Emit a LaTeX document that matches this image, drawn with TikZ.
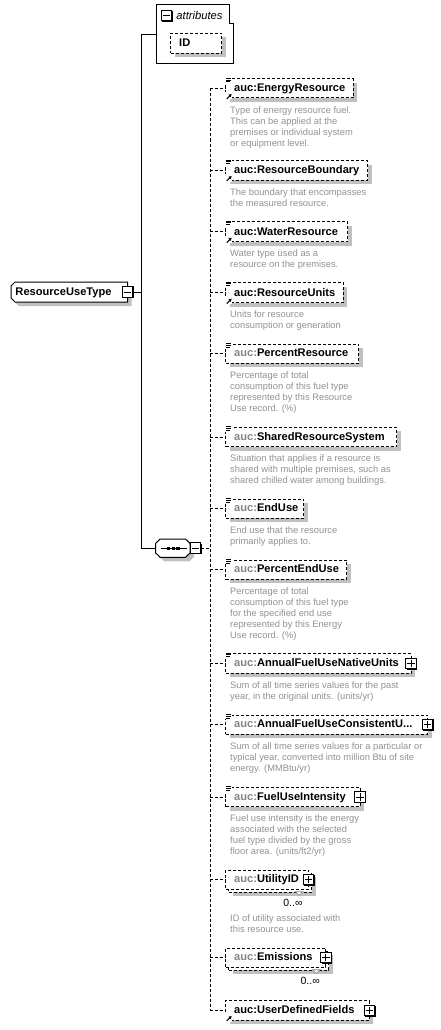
\documentclass[tikz,border=0pt]{standalone}
\usepackage{fontspec}
\setmainfont{Liberation Sans}
\usetikzlibrary{shadows,arrows.meta}

\definecolor{shade}{HTML}{C0C0C0}
\definecolor{nsgray}{HTML}{858585}
\definecolor{docgray}{HTML}{929292}

\newcommand\namefont{\fontsize{11.1}{13}\selectfont\bfseries}
\newcommand\docfont{\fontsize{9.35}{11}\selectfont}
\newcommand\ns{\textcolor{nsgray}{auc:}}

\pgfdeclarelayer{paper}
\pgfdeclarelayer{wires}
\pgfsetlayers{paper,wires,main}

% documentation marker on the upper left corner of an element box
\newcommand\docicon[1]{%
  \fill[white] ([shift={(-1,-2)}]#1.north west) rectangle ([shift={(6.2,4.4)}]#1.north west);
  \draw[line width=0.8pt] ([shift={(0.3,-0.7)}]#1.north west) -- ++(5,0)
    ([shift={(0.3,1.1)}]#1.north west) -- ++(5,0)
    ([shift={(0.3,2.9)}]#1.north west) -- ++(4,0);
}
% reference arrow on the lower left corner of an element box
\newcommand\reficon[1]{%
  \fill[white] ([shift={(-1,-6)}]#1.south west) rectangle ([shift={(6.5,1.5)}]#1.south west);
  \draw[line width=1pt, -{Triangle[length=2.8pt,width=3.2pt]}]
    ([shift={(1,0.9)}]#1.south west) -- ([shift={(5.9,-4)}]#1.south west);
}
% small notch below a repeated element
\newcommand\repeatnotch[1]{%
  \draw[gray, fill=white, line width=0.6pt] ([shift={(-13.2,2.4)}]#1.south east) -- ++(7.6,0) -- ++(-3.8,3.6) -- cycle;
}

\tikzset{
  x=1pt, y=-1pt,
  wire/.style={line width=1pt},
  dwire/.style={line width=1pt, dash pattern=on 3pt off 2pt},
  shadowed/.style={drop shadow={shadow xshift=4pt, shadow yshift=-4pt, fill=shade, opacity=1}},
  elbox/.style={rectangle, draw, line width=1pt, dash pattern=on 3pt off 2pt, fill=white,
    inner sep=0pt, outer sep=0pt, anchor=north west},
  plainbox/.style={rectangle, inner sep=0pt, outer sep=0pt, anchor=north west},
  elname/.style={font=\namefont, inner sep=0pt, text height=8.5pt, text depth=1.9pt, anchor=west},
  doc/.style={font=\docfont, text=docgray, align=left, inner sep=0pt, anchor=north west},
  occurs/.style={font=\fontsize{10.5}{12}\selectfont, inner sep=0pt, anchor=base east},
  toggle/.style={rectangle, draw, line width=1.1pt, fill=white, minimum size=10.5pt, inner sep=0pt,
    outer sep=0pt, drop shadow={shadow xshift=1pt, shadow yshift=-1pt, fill=black, opacity=1}},
  minusbox/.style={toggle, path picture={
    \draw[line width=1pt] ([xshift=-3.7pt]path picture bounding box.center) -- ([xshift=3.7pt]path picture bounding box.center);}},
  plusbox/.style={toggle, path picture={
    \draw[line width=1pt] ([xshift=-3.7pt]path picture bounding box.center) -- ([xshift=3.7pt]path picture bounding box.center)
      ([yshift=-3.7pt]path picture bounding box.center) -- ([yshift=3.7pt]path picture bounding box.center);}},
}

\begin{document}
\begin{tikzpicture}
\begin{pgfonlayer}{paper}
  \fill[white] (0,0) rectangle (441,1030);
\end{pgfonlayer}
\useasboundingbox (0,0) rectangle (441,1030);

% ---------- complex type ----------
\node[plainbox, minimum width=116.7pt, minimum height=20pt] (rut) at (11,282) {};
\draw[wire, fill=white, shadowed] ([xshift=4pt]rut.north west) -- (rut.north east) -- (rut.south east)
  -- ([xshift=4pt]rut.south west) -- ([yshift=4pt]rut.south west) -- ([yshift=-4pt]rut.north west) -- cycle;
\node[elname] (rutName) at ([xshift=4.3pt]rut.west) {ResourceUseType};
\node[minusbox] (rutToggle) at (rut.east) {};

% ---------- attribute group ----------
\node[plainbox, minimum width=76.3pt, minimum height=59pt] (attrs) at (156.7,5) {};
\draw[wire, fill=white] (attrs.north west) -- ([xshift=-3.3pt]attrs.north east)
  -- ([shift={(-3.3pt,-19pt)}]attrs.north east) -- ([yshift=-19pt]attrs.north east)
  -- (attrs.south east) -- (attrs.south west) -- cycle;
\node[minusbox] (attrsToggle) at (166.5,15.5) {};
\node[elname, font=\fontsize{11.2}{13}\selectfont\itshape] (attrsName) at ([shift={(4.5,1)}]attrsToggle.east) {attributes};
\node[elbox, shadowed, minimum width=51pt, minimum height=20pt] (attrID) at (170.7,33.3) {};
\node[elname] (attrIDName) at ([xshift=8.3pt]attrID.west) {ID};

% ---------- sequence compositor ----------
\node[plainbox, minimum width=34.3pt, minimum height=18.3pt] (seq) at (155.7,539) {};
\draw[wire, fill=white, shadowed] ([xshift=4.5pt]seq.north west) -- ([xshift=-4.5pt]seq.north east)
  -- ([yshift=-4.3pt]seq.north east) -- ([yshift=4.3pt]seq.south east) -- ([xshift=-4.5pt]seq.south east)
  -- ([xshift=4.5pt]seq.south west) -- ([yshift=4.3pt]seq.south west) -- ([yshift=-4.3pt]seq.north west) -- cycle;
\draw[wire] ([xshift=5.3pt]seq.west) -- ([xshift=-3.3pt]seq.east);
\foreach \dx in {-4.2,0.5,5.2}
  \fill ([shift={(\dx-1.6,-1.6)}]seq.center) rectangle ([shift={(\dx+1.6,1.6)}]seq.center);
\node[minusbox] (seqToggle) at ([xshift=5.5pt]seq.east) {};

% ---------- child elements ----------
\node[elbox, shadowed, minimum width=127.6pt, minimum height=19pt] (cEnergy) at (225.7,79) {};
\node[elname] (nEnergy) at ([xshift=8.3pt]cEnergy.west) {auc:EnergyResource};
\node[doc] (dEnergy) at ([shift={(4.3,8.2)}]cEnergy.south west)
  {Type of energy resource fuel.\\This can be applied at the\\premises or individual system\\or equipment level.};
\docicon{cEnergy}\reficon{cEnergy}

\node[elbox, shadowed, minimum width=142pt, minimum height=19.3pt] (cBoundary) at (225.7,160.7) {};
\node[elname] (nBoundary) at ([xshift=8.3pt]cBoundary.west) {auc:ResourceBoundary};
\node[doc] (dBoundary) at ([shift={(4.3,8.2)}]cBoundary.south west)
  {The boundary that encompasses\\the measured resource.};
\docicon{cBoundary}\reficon{cBoundary}

\node[elbox, shadowed, minimum width=122pt, minimum height=20pt] (cWater) at (225.7,221.7) {};
\node[elname] (nWater) at ([xshift=8.3pt]cWater.west) {auc:WaterResource};
\node[doc] (dWater) at ([shift={(4.3,8.2)}]cWater.south west)
  {Water type used as a\\resource on the premises.};
\docicon{cWater}\reficon{cWater}

\node[elbox, shadowed, minimum width=117.6pt, minimum height=20pt] (cUnits) at (225.7,282.7) {};
\node[elname] (nUnits) at ([xshift=8.3pt]cUnits.west) {auc:ResourceUnits};
\node[doc] (dUnits) at ([shift={(4.3,8.2)}]cUnits.south west)
  {Units for resource\\consumption or generation};
\docicon{cUnits}\reficon{cUnits}

\node[elbox, shadowed, minimum width=133pt, minimum height=19.3pt] (cPctRes) at (225.7,344) {};
\node[elname] (nPctRes) at ([xshift=8.3pt]cPctRes.west) {\ns PercentResource};
\node[doc] (dPctRes) at ([shift={(4.3,8.2)}]cPctRes.south west)
  {Percentage of total\\consumption of this fuel type\\represented by this Resource\\Use record. (\%)};
\docicon{cPctRes}

\node[elbox, shadowed, minimum width=171pt, minimum height=19.4pt] (cShared) at (225.7,427.3) {};
\node[elname] (nShared) at ([xshift=8.3pt]cShared.west) {\ns SharedResourceSystem};
\node[doc] (dShared) at ([shift={(4.3,8.2)}]cShared.south west)
  {Situation that applies if a resource is\\shared with multiple premises, such as\\shared chilled water among buildings.};
\docicon{cShared}

\node[elbox, shadowed, minimum width=78pt, minimum height=19.3pt] (cEndUse) at (225.7,499) {};
\node[elname] (nEndUse) at ([xshift=8.3pt]cEndUse.west) {\ns EndUse};
\node[doc] (dEndUse) at ([shift={(4.3,8.2)}]cEndUse.south west)
  {End use that the resource\\primarily applies to.};
\docicon{cEndUse}

\node[elbox, shadowed, minimum width=121pt, minimum height=19.3pt] (cPctEnd) at (225.7,560) {};
\node[elname] (nPctEnd) at ([xshift=8.3pt]cPctEnd.west) {\ns PercentEndUse};
\node[doc] (dPctEnd) at ([shift={(4.3,8.2)}]cPctEnd.south west)
  {Percentage of total\\consumption of this fuel type\\for the specified end use\\represented by this Energy\\Use record. (\%)};
\docicon{cPctEnd}

\node[elbox, shadowed, minimum width=185.3pt, minimum height=19.6pt] (cNative) at (225.7,653.7) {};
\node[elname] (nNative) at ([xshift=8.3pt]cNative.west) {\ns AnnualFuelUseNativeUnits};
\node[doc] (dNative) at ([shift={(4.3,8.2)}]cNative.south west)
  {Sum of all time series values for the past\\year, in the original units. (units/yr)};
\docicon{cNative}
\node[plusbox] (pNative) at (cNative.east) {};

\node[elbox, shadowed, minimum width=202pt, minimum height=19.3pt] (cConsistent) at (225.7,715) {};
\node[elname] (nConsistent) at ([xshift=8.3pt]cConsistent.west) {\ns AnnualFuelUseConsistentU...};
\node[doc] (dConsistent) at ([shift={(4.3,8.2)}]cConsistent.south west)
  {Sum of all time series values for a particular or\\typical year, converted into million Btu of site\\energy. (MMBtu/yr)};
\docicon{cConsistent}
\node[plusbox] (pConsistent) at (cConsistent.east) {};

\node[elbox, shadowed, minimum width=134.3pt, minimum height=19.4pt] (cIntensity) at (225.7,787.3) {};
\node[elname] (nIntensity) at ([xshift=8.3pt]cIntensity.west) {\ns FuelUseIntensity};
\node[doc] (dIntensity) at ([shift={(4.3,8.2)}]cIntensity.south west)
  {Fuel use intensity is the energy\\associated with the selected\\fuel type divided by the gross\\floor area. (units/ft2/yr)};
\docicon{cIntensity}
\node[plusbox] (pIntensity) at (cIntensity.east) {};

% repeated elements: a second frame stacked behind
\node[elbox, shadowed, minimum width=82.8pt, minimum height=19.3pt] (cUtilBack) at (228.7,873) {};
\node[elbox, minimum width=82.8pt, minimum height=19.3pt] (cUtil) at (225.7,870) {};
\node[elname] (nUtil) at ([xshift=8.3pt]cUtil.west) {\ns UtilityID};
\repeatnotch{cUtil}
\node[occurs] (oUtil) at ([shift={(-5.8,17.5)}]cUtil.south east) {0..∞};
\node[doc] (dUtil) at ([shift={(4.3,25.4)}]cUtil.south west)
  {ID of utility associated with\\this resource use.};
\node[plusbox] (pUtil) at (cUtil.east) {};

\node[elbox, shadowed, minimum width=100.1pt, minimum height=19.3pt] (cEmisBack) at (228.7,951) {};
\node[elbox, minimum width=100.1pt, minimum height=19.3pt] (cEmis) at (225.7,948) {};
\node[elname] (nEmis) at ([xshift=8.3pt]cEmis.west) {\ns Emissions};
\repeatnotch{cEmis}
\node[occurs] (oEmis) at ([shift={(-5.8,17.2)}]cEmis.south east) {0..∞};
\node[plusbox] (pEmis) at (cEmis.east) {};

\node[elbox, shadowed, minimum width=143.6pt, minimum height=19.3pt] (cUDF) at (225.7,1000.7) {};
\node[elname] (nUDF) at ([xshift=8.3pt]cUDF.west) {auc:UserDefinedFields};
\reficon{cUDF}
\node[plusbox] (pUDF) at (cUDF.east) {};

% ---------- connectors ----------
\coordinate (trunk) at (141.7,292);
\coordinate (bus) at (210.3,548.15);
\begin{pgfonlayer}{wires}
  \draw[wire] (attrs.west) -| (trunk) |- (seq.west);
  \draw[wire] (rutToggle.east) -- (trunk);
  \draw[dwire] (seqToggle.east) -- (bus);
  \draw[dwire] (bus |- cEnergy.west) -- (bus |- cUDF.west);
  \foreach \c in {cEnergy,cBoundary,cWater,cUnits,cPctRes,cShared,cEndUse,cPctEnd,
                  cNative,cConsistent,cIntensity,cUtil,cEmis,cUDF}
    \draw[dwire] (bus |- \c.west) -- (\c.west);
\end{pgfonlayer}
\end{tikzpicture}
\end{document}
